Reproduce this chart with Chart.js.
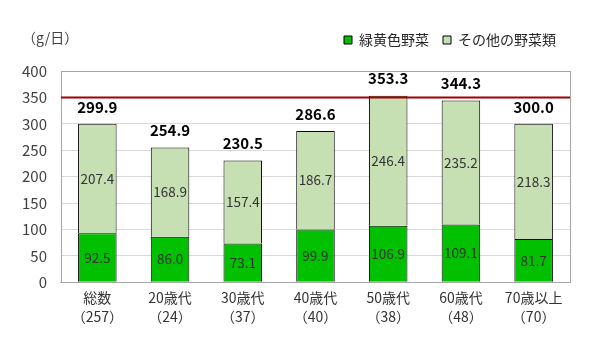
<!DOCTYPE html>
<html><head><meta charset="utf-8">
<script src="https://cdn.jsdelivr.net/npm/chart.js@4/dist/chart.umd.min.js"></script>
<style>html,body{margin:0;padding:0;background:#fff;}#wrap{width:589px;height:337px;}</style>
</head><body><div id="wrap"><canvas id="c" width="589" height="337"></canvas></div>
<script>
const categories = [["総数","（257）"],["20歳代","（24）"],["30歳代","（37）"],["40歳代","（40）"],["50歳代","（38）"],["60歳代","（48）"],["70歳以上","（70）"]];
const greenYellow = [92.5, 86.0, 73.1, 99.9, 106.9, 109.1, 81.7];
const otherVeg = [207.4, 168.9, 157.4, 186.7, 246.4, 235.2, 218.3];
const totals = [299.9, 254.9, 230.5, 286.6, 353.3, 344.3, 300.0];
const targetLine = 350;
const yTicks = [0,50,100,150,200,250,300,350,400];
const FONT = "'Noto Sans CJK JP', 'Noto Sans', sans-serif";

const extras = {
  id: 'extras',
  afterInit(chart) {
    const lg = chart.legend;
    if (lg) { const orig = lg.fit.bind(lg); lg.fit = function(){ orig(); this.height += 14; }; }
  },
  afterDatasetsDraw(chart) {
    const ctx = chart.ctx, a = chart.chartArea, y = chart.scales.y;
    ctx.save();
    ctx.strokeStyle = '#a6a6a6'; ctx.lineWidth = 1;
    ctx.strokeRect(Math.round(a.left)+0.5, Math.round(a.top)+0.5, Math.round(a.right-a.left), Math.round(a.bottom-a.top));
    const ly = y.getPixelForValue(targetLine);
    ctx.strokeStyle = '#a00000'; ctx.lineWidth = 2;
    ctx.beginPath(); ctx.moveTo(a.left, ly); ctx.lineTo(a.right, ly); ctx.stroke();
    ctx.textAlign = 'center'; ctx.textBaseline = 'middle';
    ctx.font = "13.5px " + FONT; ctx.fillStyle = '#333333';
    chart.data.datasets.forEach((ds, di) => {
      const meta = chart.getDatasetMeta(di);
      meta.data.forEach((el, i) => {
        const p = el.getProps(['x','y','base'], true);
        ctx.fillText(ds.data[i].toFixed(1), p.x, (p.y + p.base)/2);
      });
    });
    ctx.font = "bold 15px " + FONT; ctx.fillStyle = '#000';
    const top = chart.getDatasetMeta(1);
    top.data.forEach((el, i) => {
      ctx.fillText(totals[i].toFixed(1), el.x, y.getPixelForValue(totals[i]) - 17);
    });
    ctx.font = "14px " + FONT; ctx.fillStyle = '#404040'; ctx.textAlign = 'left';
    ctx.fillText('（g/日）', 22, 38);
    ctx.restore();
  }
};

new Chart(document.getElementById('c'), {
  type: 'bar',
  data: {
    labels: categories,
    datasets: [
      { label: '緑黄色野菜', data: greenYellow, backgroundColor: '#00c000', borderColor: '#000', borderWidth: 1, barPercentage: 0.53, categoryPercentage: 1.0 },
      { label: 'その他の野菜類', data: otherVeg, backgroundColor: '#c6e0b4', borderColor: '#000', borderWidth: 1, barPercentage: 0.53, categoryPercentage: 1.0 }
    ]
  },
  options: {
    responsive: false, animation: false,
    layout: { padding: { left: 8, right: 19, top: 19, bottom: 5 } },
    plugins: {
      legend: { position: 'top', align: 'end',
        labels: { boxWidth: 8, boxHeight: 8, font: { size: 14, family: FONT }, color: '#262626', padding: 14 } },
      tooltip: { enabled: false }
    },
    scales: {
      x: { stacked: true, grid: { display: false, drawTicks: false }, border: { color: '#a6a6a6' },
        ticks: { font: { size: 14, family: FONT, lineHeight: 1.35 }, color: '#333', padding: 6 } },
      y: { stacked: true, min: 0, max: 400, afterBuildTicks: s => { s.ticks = yTicks.map(v => ({value: v})); },
        grid: { color: '#d9d9d9', drawTicks: false }, border: { display: false },
        ticks: { font: { size: 15, family: FONT }, color: '#404040', padding: 14 } }
    }
  },
  plugins: [extras]
});
</script></body></html>
